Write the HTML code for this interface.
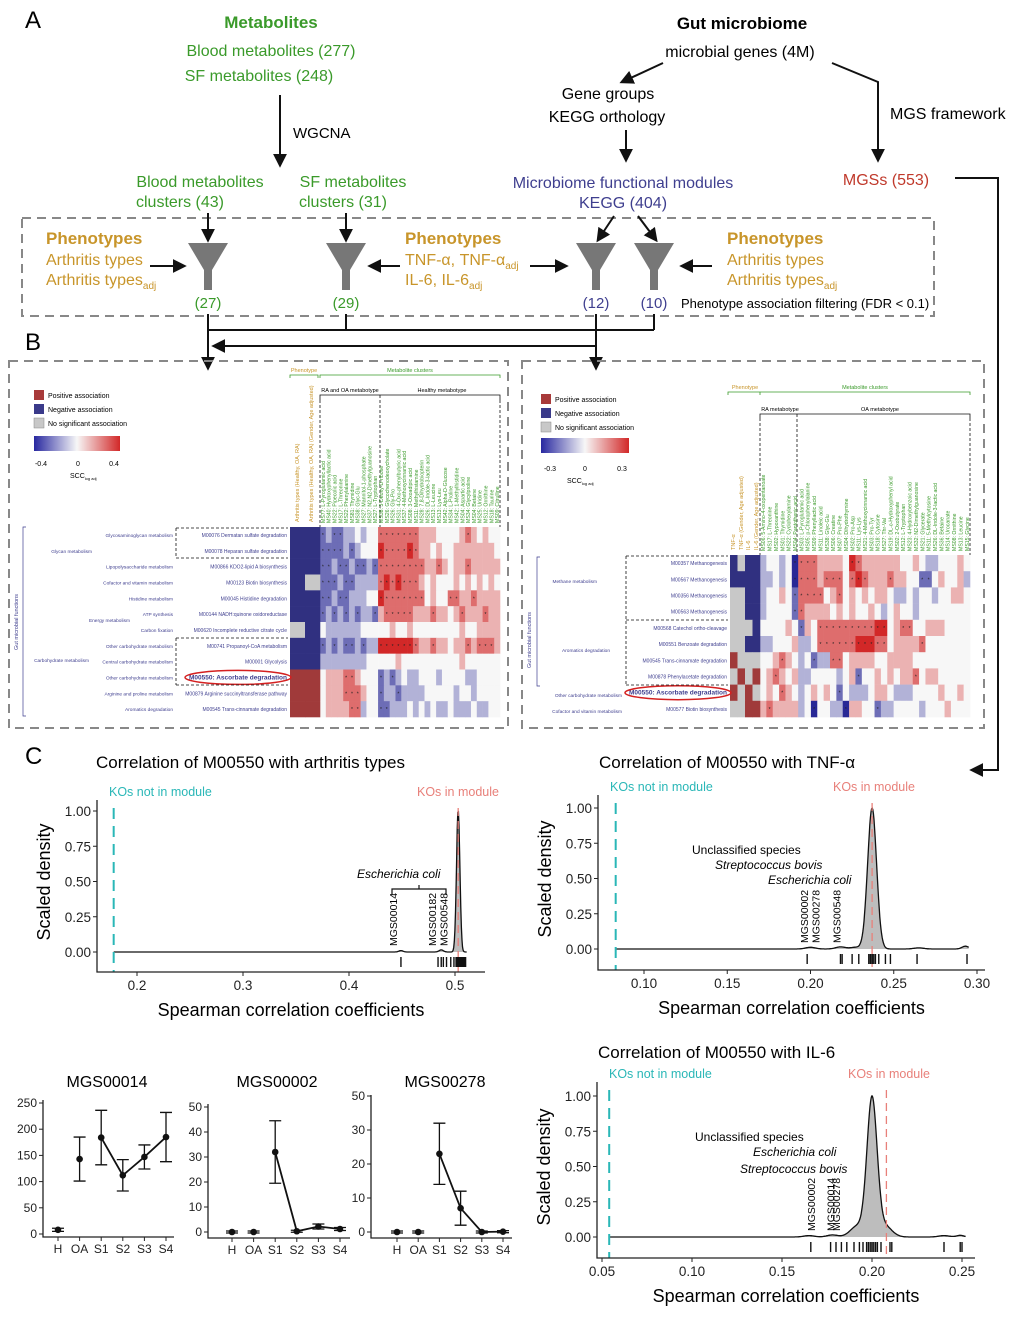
<!DOCTYPE html>
<html><head><meta charset="utf-8">
<style>
html,body{margin:0;padding:0;background:#fff;}
svg{display:block;font-family:"Liberation Sans",Arial,sans-serif;}
.g{fill:#3a9a2a}.gold{fill:#c8952a}.bl{fill:#3f3f8f}.rd{fill:#c0392b}
.t16{font-size:16px}.t15{font-size:15px}
.ax{stroke:#222;stroke-width:1.3;fill:none}
.tk{font-size:13.5px;fill:#222}
.sm{font-size:12px;fill:#222}
</style></head>
<body>
<svg id="fig" width="1013" height="1323" viewBox="0 0 1013 1323" xmlns="http://www.w3.org/2000/svg">
<defs>
<marker id="ah" viewBox="0 0 10 10" refX="8" refY="5" markerWidth="7" markerHeight="7" orient="auto-start-reverse"><path d="M0,0L10,5L0,10z" fill="#111"/></marker>
<linearGradient id="cb" x1="0" x2="1" y1="0" y2="0"><stop offset="0" stop-color="#2828a0"/><stop offset="0.5" stop-color="#f7f7f7"/><stop offset="1" stop-color="#d22828"/></linearGradient>
</defs>

<!-- PANEL A -->
<g>
<text x="25" y="28" font-size="24">A</text>
<text x="271" y="28" text-anchor="middle" class="g" font-size="17" font-weight="bold">Metabolites</text>
<text x="271" y="56" text-anchor="middle" class="g t16">Blood metabolites (277)</text>
<text x="259" y="81" text-anchor="middle" class="g t16">SF metabolites (248)</text>
<line x1="280" y1="95" x2="280" y2="165" stroke="#111" stroke-width="2" marker-end="url(#ah)"/>
<text x="293" y="138" class="t15">WGCNA</text>
<text x="742" y="29" text-anchor="middle" font-size="17" font-weight="bold">Gut microbiome</text>
<text x="740" y="57" text-anchor="middle" class="t16">microbial genes (4M)</text>
<line x1="663" y1="63" x2="622" y2="82" stroke="#111" stroke-width="2" marker-end="url(#ah)"/>
<polyline points="832,63 878,82 878,160" fill="none" stroke="#111" stroke-width="2" marker-end="url(#ah)"/>
<text x="608" y="99" text-anchor="middle" class="t16">Gene groups</text>
<text x="607" y="122" text-anchor="middle" class="t16">KEGG orthology</text>
<line x1="626" y1="130" x2="626" y2="160" stroke="#111" stroke-width="2" marker-end="url(#ah)"/>
<text x="890" y="119" class="t16">MGS framework</text>
<text x="200" y="187" text-anchor="middle" class="g t16">Blood metabolites</text>
<text x="180" y="207" text-anchor="middle" class="g t16">clusters (43)</text>
<text x="353" y="187" text-anchor="middle" class="g t16">SF metabolites</text>
<text x="343" y="207" text-anchor="middle" class="g t16">clusters (31)</text>
<text x="623" y="188" text-anchor="middle" class="bl t16">Microbiome functional modules</text>
<text x="623" y="208" text-anchor="middle" class="bl t16">KEGG (404)</text>
<text x="886" y="185" text-anchor="middle" class="rd t16">MGSs (553)</text>
<polyline points="955,178 998,178 998,770 972,770" fill="none" stroke="#111" stroke-width="2" marker-end="url(#ah)"/>
<rect x="22" y="218" width="912" height="98" fill="none" stroke="#888" stroke-width="2" stroke-dasharray="9,6"/>
<g fill="#777">
<path d="M188,243L228,243L212,270L212,290L204,290L204,270Z"/>
<path d="M326,243L366,243L350,270L350,290L342,290L342,270Z"/>
<path d="M576,243L616,243L600,270L600,290L592,290L592,270Z"/>
<path d="M634,243L674,243L658,270L658,290L650,290L650,270Z"/>
</g>
<g stroke="#111" stroke-width="2" marker-end="url(#ah)">
<line x1="208" y1="213" x2="208" y2="240"/><line x1="346" y1="213" x2="346" y2="240"/>
<line x1="614" y1="216" x2="598" y2="240"/><line x1="638" y1="216" x2="656" y2="240"/>
<line x1="150" y1="266" x2="184" y2="266"/><line x1="400" y1="266" x2="370" y2="266"/>
<line x1="530" y1="266" x2="566" y2="266"/><line x1="712" y1="266" x2="682" y2="266"/>
</g>
<text x="46" y="244" class="gold" font-size="17" font-weight="bold">Phenotypes</text>
<text x="46" y="265" class="gold t16">Arthritis types</text>
<text x="46" y="285" class="gold t16">Arthritis types<tspan font-size="10" dy="4">adj</tspan></text>
<text x="405" y="244" class="gold" font-size="17" font-weight="bold">Phenotypes</text>
<text x="405" y="265" class="gold t16">TNF-α, TNF-α<tspan font-size="10" dy="4">adj</tspan></text>
<text x="405" y="285" class="gold t16">IL-6, IL-6<tspan font-size="10" dy="4">adj</tspan></text>
<text x="727" y="244" class="gold" font-size="17" font-weight="bold">Phenotypes</text>
<text x="727" y="265" class="gold t16">Arthritis types</text>
<text x="727" y="285" class="gold t16">Arthritis types<tspan font-size="10" dy="4">adj</tspan></text>
<text x="208" y="308" text-anchor="middle" class="g" font-size="15">(27)</text>
<text x="346" y="308" text-anchor="middle" class="g" font-size="15">(29)</text>
<text x="596" y="308" text-anchor="middle" class="bl" font-size="15">(12)</text>
<text x="654" y="308" text-anchor="middle" class="bl" font-size="15">(10)</text>
<text x="681" y="308" font-size="13">Phenotype association filtering (FDR &lt; 0.1)</text>
<g stroke="#111" stroke-width="2" fill="none">
<line x1="346" y1="314" x2="346" y2="330"/><line x1="654" y1="314" x2="654" y2="330"/>
<line x1="208" y1="330" x2="654" y2="330"/>
<line x1="208" y1="314" x2="208" y2="368" marker-end="url(#ah)"/>
<line x1="596" y1="346" x2="214" y2="346" marker-end="url(#ah)"/>
<line x1="596" y1="314" x2="596" y2="368" marker-end="url(#ah)"/>
</g>
</g>

<!-- PANEL B -->
<g id="panelB">
<text x="25" y="350" font-size="24">B</text>
<rect x="9" y="361" width="499" height="367" fill="none" stroke="#888" stroke-width="2" stroke-dasharray="9,6"/>
<rect x="522" y="361" width="462" height="367" fill="none" stroke="#888" stroke-width="2" stroke-dasharray="9,6"/>
<g font-size="7">
<rect x="34" y="390" width="10" height="10" fill="#a83a3a"/><text x="48" y="398">Positive association</text>
<rect x="34" y="404" width="10" height="10" fill="#3a3a8a"/><text x="48" y="412">Negative association</text>
<rect x="34" y="418" width="10" height="10" fill="#c8c8c8" stroke="#888" stroke-width="0.5"/><text x="48" y="426">No significant association</text>
<rect x="34" y="436" width="86" height="15" fill="url(#cb)"/>
<text x="41" y="466" text-anchor="middle">-0.4</text><text x="78" y="466" text-anchor="middle">0</text><text x="114" y="466" text-anchor="middle">0.4</text>
<text x="70" y="478">SCC<tspan font-size="4" dy="2">log adj</tspan></text>
</g>
<g font-size="7">
<rect x="541" y="394" width="10" height="10" fill="#a83a3a"/><text x="555" y="402">Positive association</text>
<rect x="541" y="408" width="10" height="10" fill="#3a3a8a"/><text x="555" y="416">Negative association</text>
<rect x="541" y="422" width="10" height="10" fill="#c8c8c8" stroke="#888" stroke-width="0.5"/><text x="555" y="430">No significant association</text>
<rect x="541" y="438" width="88" height="15" fill="url(#cb)"/>
<text x="550" y="471" text-anchor="middle">-0.3</text><text x="585" y="471" text-anchor="middle">0</text><text x="622" y="471" text-anchor="middle">0.3</text>
<text x="567" y="483">SCC<tspan font-size="4" dy="2">log adj</tspan></text>
</g>
<g font-size="5.5">
<text x="304" y="372" text-anchor="middle" class="gold">Phenotype</text>
<text x="410" y="372" text-anchor="middle" class="g">Metabolite clusters</text>
<path d="M290,378V375H318V378M320,378V375H500V378" fill="none" stroke="#3a9a2a" stroke-width="0.8"/>
<text x="350" y="392" text-anchor="middle">RA and OA metabotype</text>
<text x="442" y="392" text-anchor="middle">Healthy metabotype</text>
<path d="M320,400V395H500V400" fill="none" stroke="#111" stroke-width="0.8"/>
<path d="M320,400V527M380,395V527M500,400V527" fill="none" stroke="#111" stroke-width="0.8" stroke-dasharray="3,2"/>
<text transform="translate(299,522) rotate(-90)" class="gold">Arthritis types (Healthy, OA, RA)</text>
<text transform="translate(313,522) rotate(-90)" class="gold">Arthritis types (Healthy, OA, RA) (Gender, Age adjusted)</text>
</g>
<g font-size="5.5">
<text x="745" y="389" text-anchor="middle" class="gold">Phenotype</text>
<text x="865" y="389" text-anchor="middle" class="g">Metabolite clusters</text>
<path d="M728,395V392H760V395M760,395V392H970V395" fill="none" stroke="#3a9a2a" stroke-width="0.8"/>
<text x="780" y="411" text-anchor="middle">RA metabotype</text>
<text x="880" y="411" text-anchor="middle">OA metabotype</text>
<path d="M760,418V414H970V418" fill="none" stroke="#111" stroke-width="0.8"/>
<path d="M760,418V555M797,414V555M970,418V555" fill="none" stroke="#111" stroke-width="0.8" stroke-dasharray="3,2"/>
<text transform="translate(735,550) rotate(-90)" class="gold">TNF-α</text>
<text transform="translate(743,550) rotate(-90)" class="gold">TNF-α (Gender, Age adjusted)</text>
<text transform="translate(750,550) rotate(-90)" class="gold">IL-6</text>
<text transform="translate(758,550) rotate(-90)" class="gold">IL-6 (Gender, Age adjusted)</text>
</g>
<text transform="translate(18,622) rotate(-90)" text-anchor="middle" font-size="5.5" class="bl">Gut microbial functions</text>
<path d="M26,527H23V716H26" fill="none" stroke="#3f3f8f" stroke-width="0.7"/>
<text transform="translate(531,640) rotate(-90)" text-anchor="middle" font-size="5.5" class="bl">Gut microbial functions</text>
<path d="M540,557H537V686H540" fill="none" stroke="#3f3f8f" stroke-width="0.7"/>
</g>

<!-- PANEL C -->
<g>
<text x="25" y="764" font-size="24">C</text>
<text x="96" y="768" font-size="17">Correlation of M00550 with arthritis types</text>
<text x="599" y="768" font-size="17">Correlation of M00550 with TNF-α</text>
<text x="598" y="1058" font-size="17">Correlation of M00550 with IL-6</text>
</g>
<g id="plots"></g>

<script>
// ---------- heatmap data ----------
const leftModules = ["M00076 Dermatan sulfate degradation","M00078 Heparan sulfate degradation","M00866 KDO2-lipid A biosynthesis","M00123 Biotin biosynthesis","M00045 Histidine degradation","M00144 NADH:quinone oxidoreductase","M00620 Incomplete reductive citrate cycle","M00741 Propanoyl-CoA metabolism","M00001 Glycolysis","M00550: Ascorbate degradation","M00879 Arginine succinyltransferase pathway","M00545 Trans-cinnamate degradation"];
const leftSubCats = ["Glycosaminoglycan metabolism","","Lipopolysaccharide metabolism","Cofactor and vitamin metabolism","Histidine metabolism","ATP synthesis","Carbon fixation","Other carbohydrate metabolism","Central carbohydrate metabolism","Other carbohydrate metabolism","Arginine and proline metabolism","Aromatics degradation"];
const leftPheno = ["BB","BB","BB","BG","BB","BB","GB","BB","BB","RR","RR","RR"];
const leftValues = [
"1211223233"+"55555554"+"4433334543433",
"1111212333"+"65555654"+"4343344444443",
"1121121121"+"55555555"+"4454344544444",
"1112112222"+"56565554"+"3433343434343",
"1121122233"+"65555555"+"3433554454444",
"1212121221"+"45555544"+"4544345444544",
"3222222333"+"33433433"+"3333334334444",
"1212112122"+"66666654"+"4544344545554",
"2222222233"+"33343333"+"3333334333333",
"3444554333"+"12123223"+"3323333223333",
"3444555433"+"12212222"+"3333323323333",
"3444455233"+"11222323"+"2322322232233"];
const leftCols = ["MS77: L-Pyroglutamic acid","MS40: Hydroxyphenyllactic acid","MS22: Pipecolic acid","MS17: L-Threonine","MS22: Phenylalanine","MS81: Thymidine","MS38: Glyc-Glu","MS27: Mannitol-1-phosphate","MS37: N2,N2-Dimethylguanosine","MS27: L-Tryptophan","MS38: 3-Deoxy-D-ribose","MS26: Glycochenodeoxycholate","MS26: Gly-Pro","MS31: 4-Oxo-phenylbutyric acid","MS37: 4-Methoxycinnamic acid","MS08: 3-Oxoadipic acid","MS11: Methylhistamine","MS28: 7,8-Dihydrobiopterin","MS26: DL-Indole-3-lactic acid","MS13: L-Leucine","MS13: Lys-Leu","MS42: Alpha-D-Glucose","MS34: L-Proline","MS42: 1-Methylhistidine","MS04: Aspartic acid","MS34: Glycylproline","MS04: Betaine","MS25: Uridine","MS12: Ornithine","MS18: Taurine","MS09: Citrulline"];

const rightModules = ["M00357 Methanogenesis","M00567 Methanogenesis","M00356 Methanogenesis","M00563 Methanogenesis","M00568 Catechol ortho-cleavage","M00551 Benzoate degradation","M00545 Trans-cinnamate degradation","M00878 Phenylacetate degradation","M00550: Ascorbate degradation","M00577 Biotin biosynthesis"];
const rightPheno = ["BGBB","BBBB","GGBB","GGBB","GGGB","GGBB","RGGG","GRGR","RGRG","GGRR"];
const rightValues = [
"23323055544"+"44365444444"+"33432233343",
"22323055545"+"55356544454"+"43311343342",
"23343155553"+"45343434432"+"23233233443",
"23333154444"+"34343343234"+"33233333333",
"33334314355"+"55555556634"+"55334443333",
"22333422355"+"55556665534"+"44453333333",
"33454323122"+"55344443344"+"44333333333",
"34543422333"+"32341334343"+"44534433333",
"34354323434"+"31322234432"+"22333343343",
"45444423033"+"22044331223"+"33323334333"];
const rightCols = ["MS06: 5-Amino-4-oxopentanoate","MS17: L-Threonine","MS02: Hypoxanthine","MS01: Thymidine","MS22: Cyclohexylamine","MS04: Pantothenic acid","MS03: L-Pyroglutamic acid","MS05: p-Chlorophenylalanine","MS09: Phenyllactic acid","MS11: Linoleic acid","MS38: Glyc-Glu","MS06: Creatine","MS07: Pro-Phe","MS04: Dihydrothymine","MS02: Pro-Asp","MS11: Lys-Lys","MS21: 4-Methoxycinnamic acid","MS03: Pro-Tyr","MS18: Cytosine","MS27: Thr-Val","MS19: DL-o-Hydroxyphenyl acid","MS02: 2-Oxobutyrate","MS12: L-Tryptophan","MS23: 4-Hydroxybenzoic acid","MS32: N2-Dimethylguanosine","MS21: Glycerate","MS11: 5-Methylcytosine","MS26: DL-Indole-3-lactic acid","MS36: Betaine","MS14: Urocanate","MS08: Ornithine","MS13: Leucine","MS15: Glycine"];

const svg = document.getElementById('fig');
const NS = "http://www.w3.org/2000/svg";
function mk(tag, attrs, parent) {
  const e = document.createElementNS(NS, tag);
  for (const k in attrs) e.setAttribute(k, attrs[k]);
  (parent || svg).appendChild(e);
  return e;
}
function heatColor(v) {
  const t = (v - 3) / 3;
  const w = [247,247,247];
  const c = t < 0 ? [40,40,150] : [210,40,40];
  const a = Math.abs(t);
  return 'rgb(' + w.map((x,i)=>Math.round(x + (c[i]-x)*a)).join(',') + ')';
}
const phenoColor = {B:'#303080', R:'#a03a3a', G:'#c8c8c8'};

function drawHeatmap(cfg) {
  const g = mk('g', {});
  
  
  const rowH = (cfg.y1 - cfg.y0) / cfg.values.length;
  const nCol = cfg.cols.length;
  const colW = (cfg.x1 - cfg.mx0) / nCol;
  const pW = (cfg.mx0 - cfg.px0) / cfg.pheno[0].length;
  cfg.values.forEach((row, r) => {
    const y = cfg.y0 + r * rowH;
    for (let c = 0; c < nCol; c++) {
      const v = +row[c];
      const cell = mk('rect', {x: cfg.mx0 + c*colW, y: y, width: colW + 0.3, height: rowH + 0.3, fill: heatColor(isNaN(v)?3:v)}, g);
      
      
      if (Math.abs(v-3) >= 2) {
        const s = mk('text', {x: cfg.mx0 + c*colW + colW/2, y: y + rowH/2 + 2, 'font-size': 5, 'text-anchor': 'middle', fill: '#222'}, g);
        s.textContent = '*';
        
        
      }
    }
    cfg.pheno[r].split('').forEach((p, k) => {
      const pc = mk('rect', {x: cfg.px0 + k*pW, y: y, width: pW + 0.3, height: rowH + 0.3, fill: phenoColor[p]}, g);
      
      
    });
    const m = cfg.modules[r];
    const isKey = m.indexOf('M00550') === 0;
    const lab = mk('text', {x: cfg.px0 - 3, y: y + rowH/2 + 2, 'font-size': isKey ? 6.5 : 5, 'text-anchor': 'end', fill: '#3f3f8f', 'font-weight': isKey ? 'bold' : 'normal'}, g);
    lab.textContent = m;
    
    
    if (isKey) {
      const el = mk('ellipse', {cx: cfg.px0 - 52, cy: y + rowH/2, rx: 53, ry: 7, fill: 'none', stroke: '#d42020', 'stroke-width': 1.5}, g);
      
      
    }
    if (cfg.sub && cfg.sub[r]) {
      const sl = mk('text', {x: cfg.subX, y: y + rowH/2 + 2, 'font-size': 4.8, 'text-anchor': 'end', fill: '#3f3f8f'}, g);
      sl.textContent = cfg.sub[r];
      
      
    }
  });
  cfg.cols.forEach((name, c) => {
    const t = mk('text', {transform: 'translate(' + (cfg.mx0 + c*colW + colW/2 + 2) + ',' + (cfg.y0 - 4) + ') rotate(-90)', 'font-size': 5.2, fill: '#3a9a2a'}, g);
    t.textContent = name;
    
    
  });
  return g;
}
const gl = drawHeatmap({name:'heatmap-left', values:leftValues, cols:leftCols, pheno:leftPheno, modules:leftModules, sub:leftSubCats, subX:173, px0:290, mx0:320, x1:500, y0:527, y1:717});
const gr = drawHeatmap({name:'heatmap-right', values:rightValues, cols:rightCols, pheno:rightPheno, modules:rightModules, px0:730, mx0:760, x1:970, y0:555, y1:717});

const catSpecs = [
 [92, 553, 'Glycan metabolism'], [130, 622, 'Energy metabolism'], [89, 662, 'Carbohydrate metabolism'],
 [597, 583, 'Methane metabolism'], [610, 652, 'Aromatics degradation'], [622, 697, 'Other carbohydrate metabolism'], [622, 713, 'Cofactor and vitamin metabolism']];
catSpecs.forEach(s => {
  const t = mk('text', {x: s[0], y: s[1], 'font-size': 4.8, 'text-anchor': 'end', fill: '#3f3f8f'});
  t.textContent = s[2];
  
  
});
const boxes = mk('path', {d: 'M176,528H288M176,558H288M176,528V558M176,638H288M176,685H288M176,638V685M626,556H728M626,620H728M626,556V685M626,685H728', fill: 'none', stroke: '#111', 'stroke-width': 0.8, 'stroke-dasharray': '3,2'});



// ---------- density plots data ----------
// rug ticks: MGS correlation values
const rug1 = [0.449,0.484,0.487,0.489,0.492,0.496,0.499,0.501,0.502,0.503,0.503,0.503,0.504,0.504,0.505,0.506,0.507,0.508,0.509,0.510];
const rug2 = [0.198,0.218,0.219,0.225,0.229,0.235,0.236,0.236,0.237,0.237,0.237,0.238,0.239,0.241,0.245,0.248,0.264,0.294];
const rug3 = [0.166,0.177,0.180,0.183,0.186,0.190,0.193,0.195,0.197,0.198,0.199,0.200,0.200,0.201,0.202,0.203,0.205,0.210,0.211,0.240,0.249,0.250];
// density components: [centre, height, width]
const dens1 = [[0.503,1.0,0.0016],[0.449,0.01,0.002],[0.487,0.015,0.002]];
const dens2 = [[0.237,1.0,0.0027],[0.200,0.012,0.003],[0.218,0.015,0.003],[0.227,0.012,0.003],[0.265,0.008,0.003],[0.293,0.02,0.002]];
const dens3 = [[0.200,1.0,0.0028],[0.192,0.08,0.004],[0.207,0.08,0.004],[0.165,0.01,0.003],[0.178,0.015,0.003],[0.24,0.01,0.003],[0.249,0.012,0.002]];
const notInModule = [0.178, 0.083, 0.054];
const inModuleMean = [0.503, 0.237, 0.208];
const xTicks1 = [0.2,0.3,0.4,0.5];
const xTicks2 = [0.10,0.15,0.20,0.25,0.30];
const xTicks3 = [0.05,0.10,0.15,0.20,0.25];
const yTicks = [0,0.25,0.5,0.75,1];
const mgsLabels1 = [["MGS00014",0.449],["MGS00182",0.484],["MGS00548",0.489]];
const mgsLabels2 = [["MGS00002",0.198],["MGS00278",0.203],["MGS00548",0.218]];
const mgsLabels3 = [["MGS00002",0.166],["MGS00014",0.177],["MGS00278",0.180]];

const P = document.getElementById('plots');
function densityPlot(cfg) {
  const g = mk('g', {}, P);
  
  
  const xs = v => cfg.ax0 + (v - cfg.xr0) * cfg.kx;
  const ys = d => cfg.y0 - d * 141;
  const N = 600;
  let dens = [];
  for (let i = 0; i <= N; i++) {
    const v = cfg.from + (cfg.to - cfg.from) * i / N;
    let s = 0;
    cfg.comp.forEach(c => { const z = (v - c[0]) / c[2]; s += c[1] * Math.exp(-0.5*z*z); });
    dens.push([v, s]);
  }
  const mx = Math.max(...dens.map(d => d[1]));
  dens = dens.map(d => [d[0], d[1]/mx]);
  const line = dens.map((d,i) => (i?'L':'M') + xs(d[0]).toFixed(1) + ',' + ys(d[1]).toFixed(1)).join('');
  const area = mk('path', {d: line + 'L' + xs(cfg.to) + ',' + ys(0) + 'L' + xs(cfg.from) + ',' + ys(0) + 'Z', fill: '#bdbdbd', stroke: 'none'}, g);
  
  
  const dl = mk('path', {d: line, fill: 'none', stroke: '#111', 'stroke-width': 1.3}, g);
  
  
  const tl = mk('line', {x1: xs(cfg.notIn), x2: xs(cfg.notIn), y1: cfg.axTop + 8, y2: cfg.axBot, stroke: '#2ab7b7', 'stroke-width': 2, 'stroke-dasharray': '11,7'}, g);
  
  
  const rl = mk('line', {x1: xs(cfg.inMod), x2: xs(cfg.inMod), y1: cfg.axTop + 8, y2: cfg.axBot, stroke: '#e8807a', 'stroke-width': 1.3, 'stroke-dasharray': '8,5'}, g);
  
  
  cfg.rug.forEach(r => {
    const t = mk('line', {x1: xs(r), x2: xs(r), y1: cfg.y0 + 5, y2: cfg.y0 + 15, stroke: '#111', 'stroke-width': 1.4}, g);
    
    
  });
  const axes = mk('path', {d: 'M' + cfg.ax0l + ',' + cfg.axTop + 'V' + cfg.axBot + 'H' + cfg.axRight, class: 'ax'}, g);
  
  
  cfg.xt.forEach(v => {
    const tk = mk('line', {x1: xs(v), x2: xs(v), y1: cfg.axBot, y2: cfg.axBot + 4, stroke: '#222'}, g);
    
    
    const t = mk('text', {x: xs(v), y: cfg.axBot + 18, 'text-anchor': 'middle', class: 'tk'}, g);
    t.textContent = cfg.xfmt(v);
    
    
  });
  yTicks.forEach(v => {
    const tk = mk('line', {x1: cfg.ax0l - 4, x2: cfg.ax0l, y1: ys(v), y2: ys(v), stroke: '#222'}, g);
    
    
    const t = mk('text', {x: cfg.ax0l - 6, y: ys(v) + 5, 'text-anchor': 'end', class: 'tk'}, g);
    t.textContent = v.toFixed(2);
    
    
  });
  const xt = mk('text', {x: (cfg.ax0l + cfg.axRight)/2, y: cfg.axBot + 44, 'text-anchor': 'middle', 'font-size': 18}, g);
  xt.textContent = 'Spearman correlation coefficients';
  
  
  const yt = mk('text', {transform: 'translate(' + (cfg.ax0l - 47) + ',' + (cfg.y0 - 70) + ') rotate(-90)', 'text-anchor': 'middle', 'font-size': 18}, g);
  yt.textContent = 'Scaled density';
  
  
  const k1 = mk('text', {x: cfg.ax0l + 12, y: cfg.axTop - 4, 'font-size': 12.5, fill: '#2ab7b7'}, g);
  k1.textContent = 'KOs not in module';
  
  
  const k2 = mk('text', {x: cfg.kIn, y: cfg.axTop - 4, 'font-size': 12.5, fill: '#e8807a'}, g);
  k2.textContent = 'KOs in module';
  
  
  cfg.mgs.forEach((m, i) => {
    const t = mk('text', {transform: 'translate(' + (xs(m[1]) + 4 + (cfg.mgsShift ? cfg.mgsShift[i] : 0)) + ',' + (cfg.y0 - 6) + ') rotate(-90)', 'font-size': 10.5}, g);
    t.textContent = m[0];
    
    
  });
  cfg.species.forEach(s => {
    const t = mk('text', {x: s[1], y: s[2], 'font-size': 12, 'font-style': s[3] ? 'italic' : 'normal'}, g);
    t.textContent = s[0];
    
    
  });
}
densityPlot({name:'density-arthritis', rug:rug1, comp:dens1, from:0.178, to:0.511, notIn:notInModule[0], inMod:inModuleMean[0], xr0:0.2, kx:1060, ax0:137, ax0l:97, axTop:800, axBot:972, axRight:485, y0:952, xt:xTicks1, xfmt:v=>v.toFixed(1), kIn:417, mgs:mgsLabels1, mgsShift:[-8,-6,0], species:[["Escherichia coli",357,878,true]]});
densityPlot({name:'density-tnf', rug:rug2, comp:dens2, from:0.083, to:0.295, notIn:notInModule[1], inMod:inModuleMean[1], xr0:0.1, kx:1665, ax0:644, ax0l:598, axTop:795, axBot:970, axRight:985, y0:949, xt:xTicks2, xfmt:v=>v.toFixed(2), kIn:833, mgs:mgsLabels2, mgsShift:[-3,0,-4], species:[["Unclassified species",692,854,false],["Streptococcus bovis",715,869,true],["Escherichia coli",768,884,true]]});
densityPlot({name:'density-il6', rug:rug3, comp:dens3, from:0.054, to:0.252, notIn:notInModule[2], inMod:inModuleMean[2], xr0:0.05, kx:1800, ax0:602, ax0l:597, axTop:1082, axBot:1258, axRight:975, y0:1237, xt:xTicks3, xfmt:v=>v.toFixed(2), kIn:848, mgs:mgsLabels3, mgsShift:[0,0,0], species:[["Unclassified species",695,1141,false],["Escherichia coli",753,1156,true],["Streptococcus bovis",740,1173,true]]});
const br = mk('path', {d: 'M392,895V889H446V895M419,889V885', fill: 'none', stroke: '#111', 'stroke-width': 1.2});



// ---------- small abundance plots ----------
const groups = ["H","OA","S1","S2","S3","S4"];
const mgs14Mean = [8,143,184,112,147,185];
const mgs14Err = [3,42,52,30,23,47];
const mgs02Mean = [0,0,32,0.3,2.2,1.2];
const mgs02Err = [0.4,0.4,12.5,0.4,1,0.6];
const mgs278Mean = [0,0,23,7,0,0.1];
const mgs278Err = [0.3,0.3,9,5,0.3,0.3];
const ticks14 = [0,50,100,150,200,250];
const ticks02 = [0,10,20,30,40,50];
const ticks278 = [0,10,20,30,40];
const tickLabels278 = ["0","10","20","30","50"];

function smallPlot(cfg) {
  const g = mk('g', {}, P);
  
  
  const xs = i => cfg.cx0 + i * cfg.dx;
  const ys = v => cfg.y0 - v * cfg.ky;
  const ax = mk('path', {d: 'M' + cfg.axX + ',' + cfg.axTop + 'V' + cfg.axBot + 'H' + cfg.axRight, class: 'ax'}, g);
  
  
  cfg.ticks.forEach((v, i) => {
    const tk = mk('line', {x1: cfg.axX - 4, x2: cfg.axX, y1: ys(v), y2: ys(v), stroke: '#222'}, g);
    
    
    const t = mk('text', {x: cfg.axX - 6, y: ys(v) + 4, 'text-anchor': 'end', class: 'sm'}, g);
    t.textContent = cfg.tickLabels ? cfg.tickLabels[i] : String(v);
    
    
  });
  groups.forEach((c, i) => {
    const tk = mk('line', {x1: xs(i), x2: xs(i), y1: cfg.axBot, y2: cfg.axBot + 4, stroke: '#222'}, g);
    
    
    const t = mk('text', {x: xs(i), y: cfg.axBot + 16, 'text-anchor': 'middle', class: 'sm'}, g);
    t.textContent = c;
    
    
  });
  const lp = [];
  for (let i = 2; i < groups.length; i++) lp.push(xs(i) + ',' + ys(cfg.mean[i]));
  const ln = mk('polyline', {points: lp.join(' '), fill: 'none', stroke: '#111', 'stroke-width': 1.8}, g);
  
  
  cfg.mean.forEach((m, i) => {
    const e = cfg.err[i];
    const eb = mk('path', {d: 'M' + (xs(i)-6) + ',' + ys(m+e) + 'H' + (xs(i)+6) + 'M' + xs(i) + ',' + ys(m+e) + 'V' + ys(m-e) + 'M' + (xs(i)-6) + ',' + ys(m-e) + 'H' + (xs(i)+6), fill: 'none', stroke: '#111', 'stroke-width': 1.3}, g);
    
    
    const p = mk('circle', {cx: xs(i), cy: ys(m), r: 3.3, fill: '#111'}, g);
    
    
  });
  const t = mk('text', {x: cfg.titleX, y: 1087, 'text-anchor': 'middle', 'font-size': 16}, g);
  t.textContent = cfg.title;
  
  
}
smallPlot({name:'plot-mgs00014', title:'MGS00014', titleX:107, mean:mgs14Mean, err:mgs14Err, ticks:ticks14, cx0:58, dx:21.6, y0:1234, ky:0.524, axX:43, axTop:1100, axBot:1237, axRight:174});
smallPlot({name:'plot-mgs00002', title:'MGS00002', titleX:277, mean:mgs02Mean, err:mgs02Err, ticks:ticks02, cx0:232, dx:21.6, y0:1232, ky:2.5, axX:208, axTop:1104, axBot:1238, axRight:350});
smallPlot({name:'plot-mgs00278', title:'MGS00278', titleX:445, mean:mgs278Mean, err:mgs278Err, ticks:ticks278, tickLabels:tickLabels278, cx0:397, dx:21.2, y0:1232, ky:3.4, axX:371, axTop:1095, axBot:1238, axRight:512});
</script>
</svg>
</body></html>
